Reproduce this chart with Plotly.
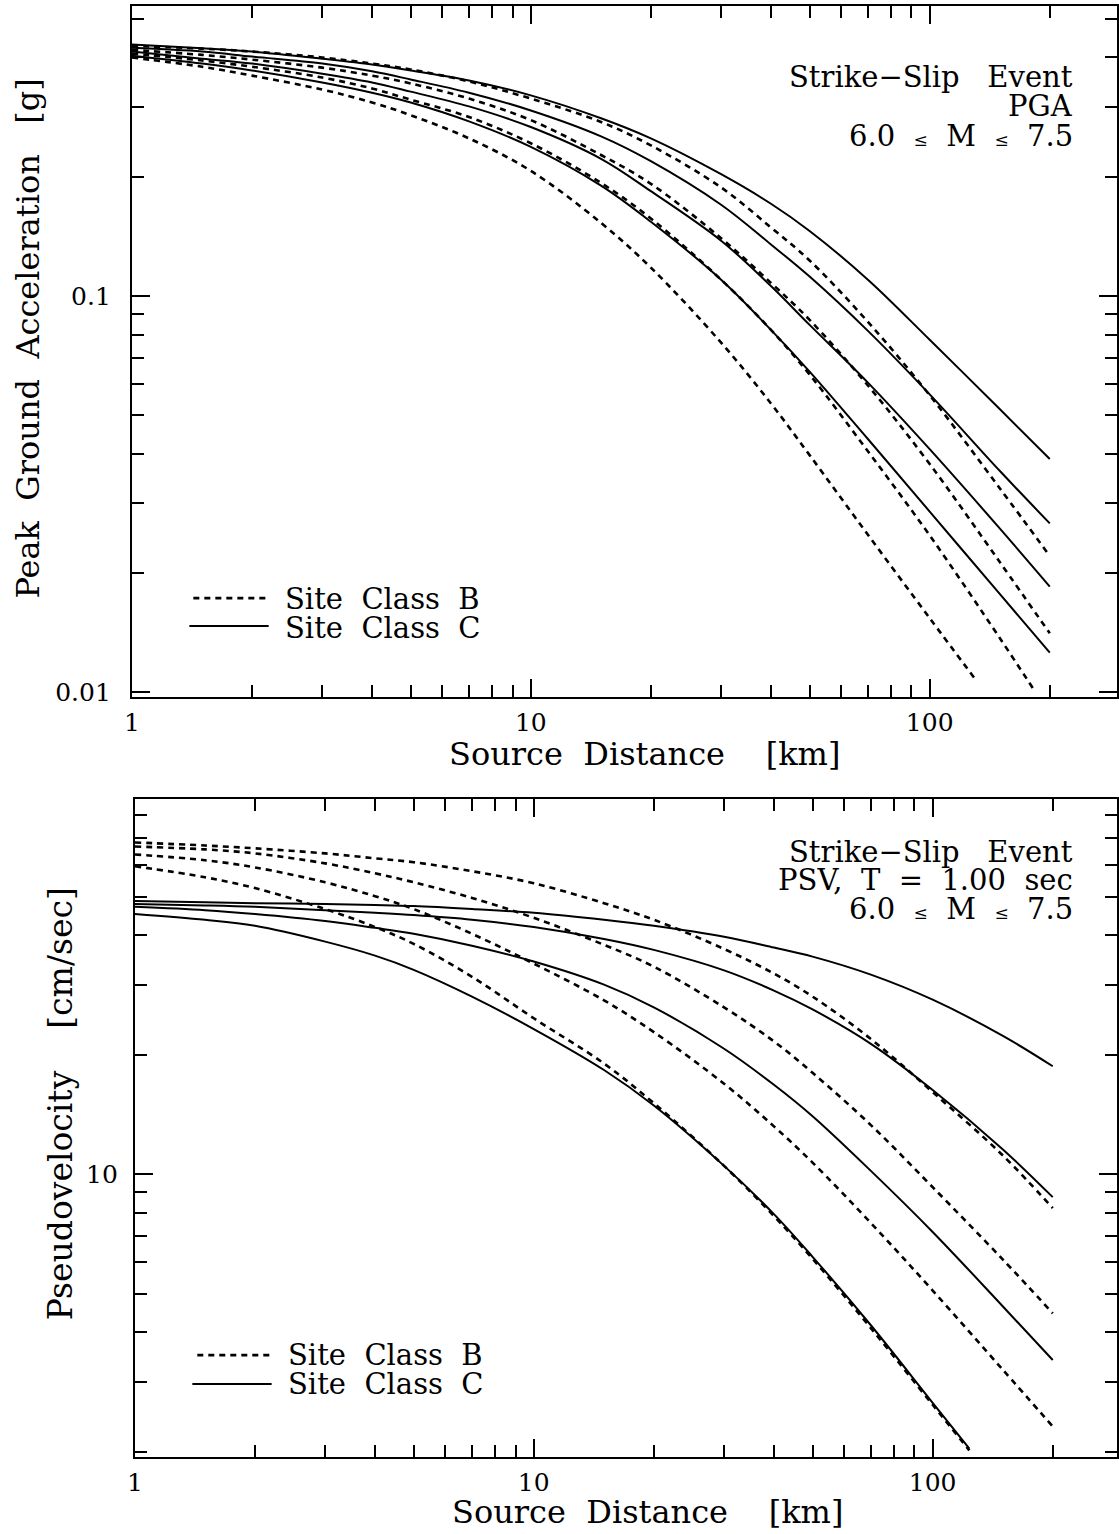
import plotly.graph_objects as go

W, H = 1119, 1534
FONT = "DejaVu Serif"

# ---------------- data ----------------
# distances [km]
dist = [1, 1.5, 2, 3, 4, 5, 7, 10, 15, 20, 30, 40, 50, 70, 100, 150, 200]
dist_pga_b_65 = [1, 1.5, 2, 3, 4, 5, 7, 10, 15, 20, 30, 40, 50, 70, 100, 150, 182]
dist_pga_b_60 = [1, 1.5, 2, 3, 4, 5, 7, 10, 15, 20, 30, 40, 50, 70, 100, 131]
dist_psv_60 = [1, 1.5, 2, 3, 4, 5, 7, 10, 15, 20, 30, 40, 50, 70, 100, 123.6]

# PGA [g]: Site class B (dashed) and C (solid), M = 7.5, 7.0, 6.5, 6.0
pga_c_75 = [0.431, 0.422, 0.414, 0.397, 0.384, 0.371, 0.350, 0.321, 0.281, 0.250, 0.203, 0.171, 0.146, 0.110, 0.0776, 0.0518, 0.0388]
pga_b_75 = [0.428, 0.421, 0.414, 0.400, 0.386, 0.373, 0.348, 0.315, 0.275, 0.240, 0.188, 0.149, 0.123, 0.0861, 0.0562, 0.0327, 0.0221]
pga_c_70 = [0.423, 0.414, 0.402, 0.386, 0.369, 0.352, 0.326, 0.294, 0.253, 0.219, 0.170, 0.135, 0.112, 0.0817, 0.0565, 0.0362, 0.0267]
pga_b_70 = [0.418, 0.406, 0.395, 0.377, 0.360, 0.344, 0.315, 0.278, 0.227, 0.192, 0.140, 0.108, 0.0871, 0.0595, 0.0377, 0.0213, 0.0141]
pga_c_65 = [0.414, 0.397, 0.386, 0.364, 0.346, 0.328, 0.301, 0.267, 0.222, 0.184, 0.138, 0.106, 0.0846, 0.0605, 0.0411, 0.0259, 0.0185]
pga_b_65 = [0.409, 0.393, 0.379, 0.356, 0.334, 0.313, 0.283, 0.243, 0.193, 0.157, 0.110, 0.0822, 0.0634, 0.0406, 0.0249, 0.0137, 0.0102]
pga_c_60 = [0.404, 0.386, 0.371, 0.346, 0.326, 0.308, 0.276, 0.238, 0.190, 0.154, 0.110, 0.0822, 0.0645, 0.0436, 0.0286, 0.0177, 0.0126]
pga_b_60 = [0.400, 0.379, 0.360, 0.332, 0.308, 0.286, 0.250, 0.207, 0.153, 0.118, 0.0763, 0.0536, 0.0397, 0.0250, 0.0154, 0.0107]

# PSV, T = 1.00 sec [cm/sec]
psv_b_75 = [68.4, 67.2, 66.1, 64.2, 62.4, 61.0, 57.9, 54.0, 48.1, 43.7, 36.9, 32.0, 28.0, 21.9, 16.1, 11.15, 8.22]
psv_c_75 = [48.7, 48.4, 48.1, 47.9, 47.6, 47.3, 46.5, 45.5, 43.7, 42.2, 39.6, 37.2, 35.3, 31.8, 27.5, 22.3, 18.7]
psv_b_70 = [66.8, 65.7, 64.2, 60.6, 57.2, 54.3, 49.6, 44.2, 37.8, 33.3, 26.3, 21.6, 18.0, 13.3, 9.28, 6.10, 4.47]
psv_c_70 = [47.9, 47.5, 47.1, 46.2, 45.5, 44.9, 43.7, 41.9, 39.1, 36.7, 32.6, 29.0, 26.0, 21.3, 16.3, 11.55, 8.76]
psv_b_65 = [63.8, 61.7, 59.2, 54.3, 50.1, 46.5, 40.3, 33.9, 27.4, 22.8, 16.9, 13.2, 10.7, 7.54, 5.10, 3.22, 2.32]
psv_c_65 = [47.1, 46.2, 45.2, 43.4, 41.7, 40.3, 37.6, 34.3, 30.0, 26.3, 20.7, 16.8, 14.0, 10.2, 7.16, 4.65, 3.41]
psv_b_60 = [59.6, 55.9, 52.5, 46.5, 41.9, 38.0, 31.4, 24.7, 19.0, 15.1, 10.5, 7.85, 6.13, 4.10, 2.63, 2.02]
psv_c_60 = [45.2, 43.7, 42.2, 38.5, 35.5, 32.7, 28.0, 23.2, 18.3, 14.9, 10.5, 7.94, 6.20, 4.17, 2.66, 2.04]

x_major = [1, 10, 100]
x_major_text = ["1", "10", "100"]
x_minor = [2, 3, 4, 5, 6, 7, 8, 9, 20, 30, 40, 50, 60, 70, 80, 90, 200]
pga_major = [0.01, 0.1]
pga_major_text = ["0.01", "0.1"]
pga_minor = [0.02, 0.03, 0.04, 0.05, 0.06, 0.07, 0.08, 0.09, 0.2, 0.3, 0.4, 0.5]
psv_major = [10]
psv_major_text = ["10"]
psv_minor = [2, 3, 4, 5, 6, 7, 8, 9, 20, 30, 40, 50, 60, 70, 80]

# ---------------- figure ----------------
def px(x):
    return x / W

def py(y):
    return 1 - y / H

SOLID = dict(color="black", width=2)
DASH = dict(color="black", width=2.6, dash="6px,5px")

fig = go.Figure()

top = [
    (dist, pga_b_75, DASH), (dist, pga_c_75, SOLID),
    (dist, pga_b_70, DASH), (dist, pga_c_70, SOLID),
    (dist_pga_b_65, pga_b_65, DASH), (dist, pga_c_65, SOLID),
    (dist_pga_b_60, pga_b_60, DASH), (dist, pga_c_60, SOLID),
]
for xs, ys, ln in top:
    fig.add_trace(go.Scatter(x=xs, y=ys, mode="lines", line=dict(shape="spline", smoothing=1.0, **ln),
                             xaxis="x", yaxis="y", showlegend=False, hoverinfo="skip"))

bot = [
    (dist, psv_b_75, DASH), (dist, psv_c_75, SOLID),
    (dist, psv_b_70, DASH), (dist, psv_c_70, SOLID),
    (dist, psv_b_65, DASH), (dist, psv_c_65, SOLID),
    (dist_psv_60, psv_b_60, DASH), (dist_psv_60, psv_c_60, SOLID),
]
for xs, ys, ln in bot:
    fig.add_trace(go.Scatter(x=xs, y=ys, mode="lines", line=dict(shape="spline", smoothing=1.0, **ln),
                             xaxis="x2", yaxis="y2", showlegend=False, hoverinfo="skip"))

tickfont = dict(family=FONT, size=25, color="black")

def xaxis(domain, rng, anchor):
    return dict(
        domain=domain, type="log", range=rng, anchor=anchor,
        showline=True, linecolor="black", linewidth=2, mirror="allticks",
        ticks="inside", ticklen=18, tickwidth=1.6, tickcolor="black",
        tickmode="array", tickvals=x_major, ticktext=x_major_text,
        minor=dict(tickmode="array", tickvals=x_minor, ticks="inside", ticklen=12,
                   tickwidth=1.6, tickcolor="black", showgrid=False),
        showgrid=False, zeroline=False, tickfont=tickfont, ticklabelstandoff=2,
    )

def yaxis(domain, rng, anchor, vals, text, minor, standoff):
    return dict(
        domain=domain, type="log", range=rng, anchor=anchor,
        showline=True, linecolor="black", linewidth=2, mirror="allticks",
        ticks="inside", ticklen=18, tickwidth=1.6, tickcolor="black",
        tickmode="array", tickvals=vals, ticktext=text,
        minor=dict(tickmode="array", tickvals=minor, ticks="inside", ticklen=12,
                   tickwidth=1.6, tickcolor="black", showgrid=False),
        showgrid=False, zeroline=False, tickfont=tickfont, ticklabelstandoff=standoff,
    )

fig.update_layout(
    width=W, height=H,
    margin=dict(l=0, r=0, t=0, b=0),
    paper_bgcolor="white", plot_bgcolor="white",
    font=dict(family=FONT, color="black"),
    xaxis=xaxis([px(125), 1.0], [0, (W - 125) / 402.5], "y"),
    yaxis=yaxis([py(702), py(6)], [-2.0125, -0.268], "x", pga_major, pga_major_text, pga_minor, 14),
    xaxis2=xaxis([px(128), 1.0], [0, (W - 128) / 402.5], "y2"),
    yaxis2=yaxis([py(1467), py(804)], [0.2875, 1.945], "x2", psv_major, psv_major_text, psv_minor, 10),
)

ann = []
def text(x, y, s, size=28, xanchor="left", angle=0):
    ann.append(dict(x=px(x), y=py(y), xref="paper", yref="paper", text=s, showarrow=False,
                    xanchor=xanchor, yanchor="middle", textangle=angle,
                    font=dict(family=FONT, size=size, color="black")))

LE = "<span style='font-size:17px'>≤</span>"
SP2 = "&nbsp; "
SP3 = "&nbsp;&nbsp; "
# top panel texts
text(1077, 78, "Strike−Slip" + SP3 + "Event", size=29, xanchor="right")
text(1077, 107, "PGA", size=29, xanchor="right")
text(1077, 137, "6.0" + SP2 + LE + SP2 + "M" + SP2 + LE + SP2 + "7.5", size=29, xanchor="right")
text(277, 603, "Site" + SP2 + "Class" + SP2 + "B", size=29)
text(277, 632, "Site" + SP2 + "Class" + SP2 + "C", size=29)
text(642, 759, "Source" + SP2 + "Distance" + SP3 + "&nbsp;[km]", size=32, xanchor="center")
text(20, 341, "Peak" + SP2 + "Ground" + SP2 + "Acceleration" + SP3 + "[g]", size=32, xanchor="center", angle=-90)
# bottom panel texts
text(1077, 858, "Strike−Slip" + SP3 + "Event", size=29, xanchor="right")
text(1077, 886, "PSV," + SP2 + "T" + SP2 + "=" + SP2 + "1.00" + SP2 + "sec", size=29, xanchor="right")
text(1077, 915, "6.0" + SP2 + LE + SP2 + "M" + SP2 + LE + SP2 + "7.5", size=29, xanchor="right")
text(281, 1364, "Site" + SP2 + "Class" + SP2 + "B", size=29)
text(281, 1393, "Site" + SP2 + "Class" + SP2 + "C", size=29)
text(645, 1522, "Source" + SP2 + "Distance" + SP3 + "&nbsp;[km]", size=32, xanchor="center")
text(53, 1111, "Pseudovelocity" + SP3 + "&nbsp;[cm/sec]", size=33, xanchor="center", angle=-90)

shapes = [
    dict(type="line", xref="paper", yref="paper", x0=px(187), x1=px(263), y0=py(602), y1=py(602),
         line=dict(color="black", width=2.6, dash="6px,5px")),
    dict(type="line", xref="paper", yref="paper", x0=px(183), x1=px(263), y0=py(630), y1=py(630),
         line=dict(color="black", width=2)),
    dict(type="line", xref="paper", yref="paper", x0=px(191), x1=px(266), y0=py(1364), y1=py(1364),
         line=dict(color="black", width=2.6, dash="6px,5px")),
    dict(type="line", xref="paper", yref="paper", x0=px(186), x1=px(266), y0=py(1393), y1=py(1393),
         line=dict(color="black", width=2)),
]
fig.update_layout(annotations=ann, shapes=shapes)

fig.write_html("out.html")
